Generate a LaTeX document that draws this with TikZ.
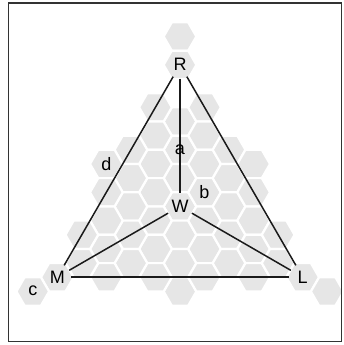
\documentclass[tikz,border=0pt]{standalone}
\usepackage{fontspec}
\setmainfont{Liberation Sans}
\definecolor{hexgray}{HTML}{E6E6E6}
\definecolor{linecol}{HTML}{1A1A1A}
\definecolor{framecol}{HTML}{333333}
\begin{document}
\begin{tikzpicture}[x=1pt,y=-1pt,
  hexcell/.style={fill=hexgray, draw=white, line width=2.2pt},
  vtx/.style={circle, minimum size=27pt, inner sep=0pt, font=\fontsize{18}{18}\selectfont},
  lbl/.style={inner sep=0pt, font=\fontsize{18}{18}\selectfont},
  conn/.style={draw=linecol, line width=1.5pt},
  frame/.style={draw=framecol, line width=1.2pt}]
\useasboundingbox (0,0) rectangle (344,345);
% hexagon background
\foreach \c/\js in {0/{0,2,6,8,10,12,14,16,18}, 1/{5,7,9,11,13,15,17}, 2/{8,10,12,14,16}, 3/{9,11,13,15,17}, 4/{14,16}, 5/{17}, 6/{18}} {
  \foreach \s in {-1,1} {
    \foreach \j in \js {
      \pgfmathsetmacro\hx{180+24.54*\c*\s}
      \pgfmathsetmacro\hy{36.5+14.165*\j}
      \draw[hexcell] (\hx,\hy) +(16.36,0) -- +(8.18,14.17) -- +(-8.18,14.17) -- +(-16.36,0) -- +(-8.18,-14.17) -- +(8.18,-14.17) -- cycle;
    }
  }
}
% vertices
\node[vtx] (R) at (180,64.8) {R};
\node[vtx] (W) at (180,206.3) {W};
\node[vtx] (M) at (57.3,277.2) {M};
\node[vtx] (L) at (302.7,277.2) {L};
% connectors
\draw[conn] (R) -- (W);
\draw[conn] (R) -- (M);
\draw[conn] (R) -- (L);
\draw[conn] (W) -- (M);
\draw[conn] (W) -- (L);
\draw[conn] (M) -- (L);
% labels
\node[lbl] (la) at (180,149.7) {a};
\node[lbl] (lb) at (204.5,192.3) {b};
\node[lbl] (ld) at (106.4,164) {d};
\node[lbl] (lc) at (32.8,291.2) {c};
% frame
\draw[frame] (8.5,3) rectangle (341.5,341.5);
\end{tikzpicture}
\end{document}
